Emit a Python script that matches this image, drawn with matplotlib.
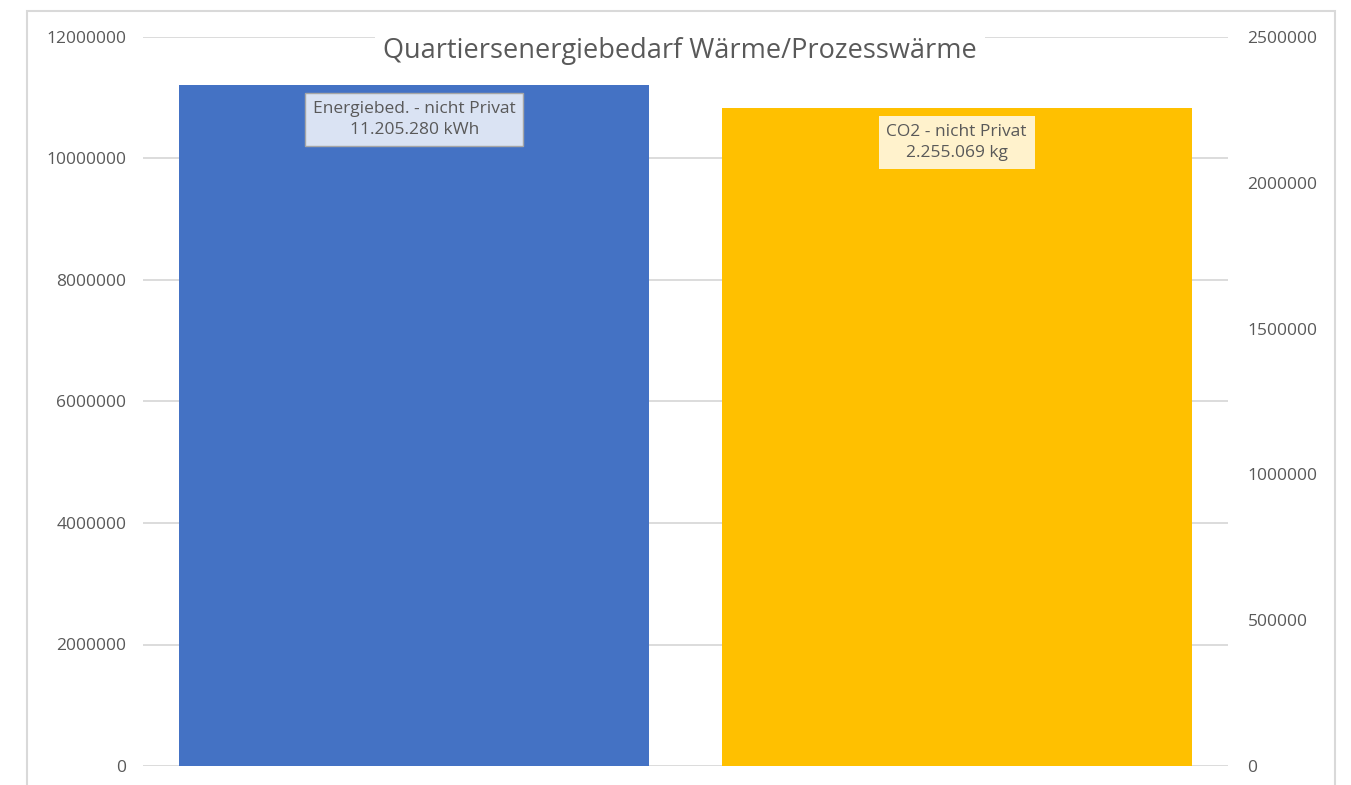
import matplotlib
matplotlib.use("Agg")
import matplotlib.pyplot as plt
from matplotlib.patches import Rectangle

# Data
categories = ["Energiebed. - nicht Privat", "CO2 - nicht Privat"]
energy_kwh = [11205280]
co2_kg = [2255069]
label_texts = ["Energiebed. - nicht Privat\n11.205.280 kWh", "CO2 - nicht Privat\n2.255.069 kg"]
left_ticks = [0, 2000000, 4000000, 6000000, 8000000, 10000000, 12000000]
right_ticks = [0, 500000, 1000000, 1500000, 2000000, 2500000]
title = "Quartiersenergiebedarf Wärme/Prozesswärme"

W, H = 1351, 785
fig = plt.figure(figsize=(W / 100, H / 100), dpi=100)
plt.rcParams['font.family'] = ['Open Sans', 'DejaVu Sans']

# Light chart frame
fig.add_artist(Rectangle((27 / W, -0.05), (1335 - 27) / W, 1.05 - 11 / H,
                         transform=fig.transFigure, fill=False,
                         edgecolor="#d9d9d9", linewidth=1.5))

ax_l, ax_r, ax_b, ax_t = 143, 1228, 766, 37
ax = fig.add_axes([ax_l / W, 1 - ax_b / H, (ax_r - ax_l) / W, (ax_b - ax_t) / H])
ax2 = ax.twinx()

tick_color = "#595959"
grid_color = "#d9d9d9"

ax.set_xlim(-0.5, 1.5)
ax.set_ylim(0, 12000000)
ax2.set_ylim(0, 2500000)

for y in left_ticks:
    ax.axhline(y, color=grid_color, linewidth=1.3, zorder=0)

bw = 0.867
b1 = ax.bar([0], energy_kwh, width=bw, color="#4472c4", zorder=2)
b2 = ax2.bar([1], co2_kg, width=bw, color="#ffc000", zorder=2)

ax.set_yticks(left_ticks)
ax.set_yticklabels([str(t) for t in left_ticks])
ax2.set_yticks(right_ticks)
ax2.set_yticklabels([str(t) for t in right_ticks])
for a in (ax, ax2):
    a.tick_params(axis="y", length=0, labelsize=12.5, labelcolor=tick_color)
    a.set_xticks([])
    for s in a.spines.values():
        s.set_visible(False)
ax.tick_params(axis="y", pad=12)
ax2.tick_params(axis="y", pad=14)

# Value labels inside the bar ends
ax.annotate(label_texts[0], xy=(0, energy_kwh[0]), xytext=(0, -24.5),
            textcoords="offset points", ha="center", va="center",
            fontsize=12.5, color=tick_color, linespacing=1.4, zorder=5,
            bbox=dict(boxstyle="square,pad=0.45", facecolor="#dae3f3",
                      edgecolor="#a6a6a6", linewidth=1))
ax2.annotate(label_texts[1], xy=(1, co2_kg[0]), xytext=(0, -24.5),
             textcoords="offset points", ha="center", va="center",
             fontsize=12.5, color=tick_color, linespacing=1.4, zorder=5,
             bbox=dict(boxstyle="square,pad=0.45", facecolor="#fff2cc",
                       edgecolor="none"))

fig.text(680 / W, 1 - 51 / H, title, ha="center", va="center",
         fontsize=19.5, color="#595959",
         bbox=dict(boxstyle="square,pad=0.3", facecolor="white", edgecolor="none"))

fig.savefig("out.png", dpi=100)
